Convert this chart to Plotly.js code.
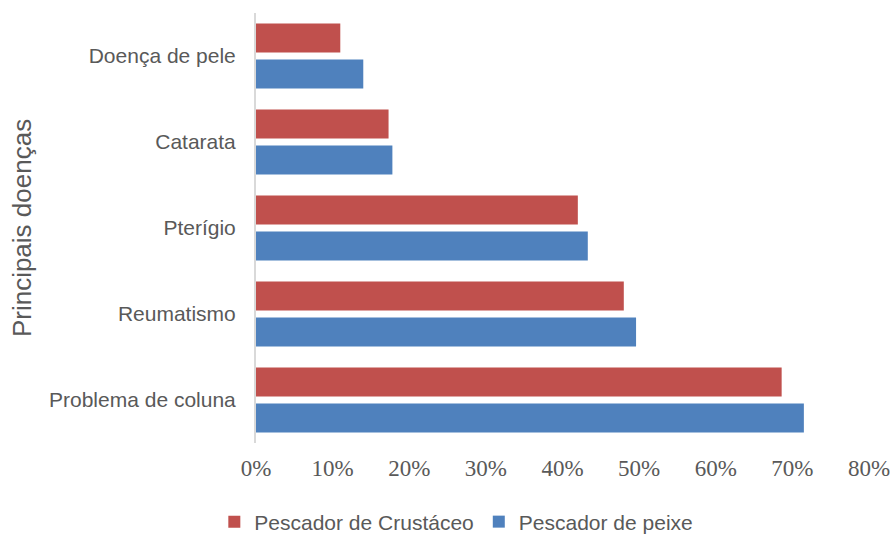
<!DOCTYPE html>
<html>
<head>
<meta charset="utf-8">
<script src="https://cdn.plot.ly/plotly-3.0.1.min.js"></script>
<style>html,body{margin:0;padding:0;background:#fff;}#chart{width:893px;height:534px;}</style>
</head>
<body>
<div id="chart"></div>
<script>
var categories = ["Problema de coluna", "Reumatismo", "Pterígio", "Catarata", "Doença de pele"];
var peixe = [71.5, 49.6, 43.3, 17.8, 14.0];
var crustaceo = [68.6, 48.0, 42.0, 17.3, 11.0];
var tickVals = [0, 10, 20, 30, 40, 50, 60, 70, 80];
var tickText = ["0%", "10%", "20%", "30%", "40%", "50%", "60%", "70%", "80%"];

var traces = [
  {type: "bar", orientation: "h", name: "Pescador de peixe", y: categories, x: peixe,
   marker: {color: "#4F81BD"}, hoverinfo: "x+y"},
  {type: "bar", orientation: "h", name: "Pescador de Crustáceo", y: categories, x: crustaceo,
   marker: {color: "#C0504D"}, hoverinfo: "x+y"}
];

var layout = {
  width: 893, height: 534,
  margin: {l: 256, r: 24, t: 13, b: 91, autoexpand: false},
  paper_bgcolor: "#ffffff", plot_bgcolor: "#ffffff",
  barmode: "group", bargap: 0.163, bargroupgap: 0.194,
  showlegend: true,
  legend: {orientation: "h", traceorder: "reversed", x: 0.511, xref: "container", xanchor: "center",
           y: 0.0225, yref: "container", yanchor: "middle",
           font: {family: "Liberation Sans, Arial, sans-serif", size: 21, color: "#595959"}},
  xaxis: {range: [0, 80], tickvals: tickVals, ticktext: tickText, showgrid: false, zeroline: false,
          showline: false, ticks: "", fixedrange: true, ticklabelstandoff: 9, automargin: false,
          tickfont: {family: "Liberation Serif, DejaVu Serif, serif", size: 23, color: "#595959"}},
  yaxis: {type: "category", showgrid: false, zeroline: false, showline: true, linecolor: "#D9D9D9", linewidth: 2,
          ticks: "", ticklabelstandoff: 14, automargin: false,
          tickfont: {family: "Liberation Sans, Arial, sans-serif", size: 21, color: "#595959"},
          title: {text: "Principais doenças", standoff: 10,
                  font: {family: "Liberation Sans, Arial, sans-serif", size: 26, color: "#595959"}}}
};

Plotly.newPlot("chart", traces, layout, {displayModeBar: false, staticPlot: true});
</script>
</body>
</html>
